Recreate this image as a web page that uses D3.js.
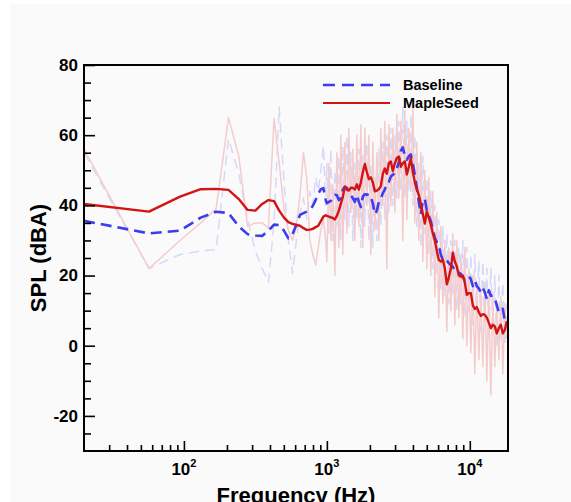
<!DOCTYPE html>
<html><head><meta charset="utf-8">
<script src="https://cdn.jsdelivr.net/npm/d3@7"></script>
<style>html,body{margin:0;padding:0;background:#fff;} svg{display:block;}</style>
</head><body>
<script>
// ---- DATA ----
// FFT bins below 1 kHz (Hz)
const freqLow = [20,57,94,131,168,205,242,279,316,353,390,427,464,501,538,575,612,649,686,723,760,797,834,871,908,945,982];
// sample frequencies above 1 kHz (Hz)
const freqHigh = [1000,1033,1067,1101,1138,1175,1213,1253,1294,1336,
 1380,1425,1472,1520,1570,1621,1674,1729,1786,1844,
 1904,1967,2031,2098,2166,2237,2310,2386,2464,2545,
 2628,2714,2803,2895,2990,3087,3189,3293,3401,3512,
 3627,3746,3868,3995,4126,4261,4400,4544,4693,4847,
 5005,5169,5338,5513,5694,5880,6073,6271,6477,6689,
 6908,7134,7367,7608,7858,8115,8380,8655,8938,9231,
 9533,9845,10167,10500,10843,11198,11565,11943,12334,12738,
 13155,13586,14030,14490,14964,15454,15960,16482,17022,17579,
 18154];

// Baseline raw spectrum (dBA)
const baselineRawLow = [55,22,26,27,27.4,59,49,36,27,22,18,35,68,47,30,20.6,30,37.8,42,36,44,40,48,44,50,57,40];
const baselineRawHigh = [52,32,56,30,50,34,54,30,57,36,
 60,34,55,30,52,36,56,28,54,34,
 58,30,52,28,48,30,56,34,58,36,
 60,38,62,40,60,42,64,44,68,42,
 64,44,66,40,60,34,52,28,54,32,
 48,26,44,22,40,20,36,16,34,14,
 32,12,30,14,30,10,28,12,30,8,
 28,10,26,6,26,8,24,4,24,6,
 22,2,22,6,20,0,20,2,18,0,
 12];
// MapleSeed raw spectrum (dBA)
const mapleRawLow = [56,22,30,35,39,65,54,34,35,35,33.5,64.8,52,39,33,30,34,43,55,48,30,26,23,28,33,36,30];
const mapleRawHigh = [24,52,30,46,20,55,28,60,26,58,
 32,62,38,56,30,60,34,63,28,62,
 40,60,26,58,33,55,30,62,40,64,
 22,63,40,62,38,66,42,64,30,67,
 36,62,44,68,35,58,30,55,24,50,
 22,48,20,44,14,38,8,34,12,30,
 4,28,10,32,6,30,8,26,2,28,
 0,22,-2,20,-8,18,-4,16,-6,18,
 -10,15,-14,14,-6,12,-4,14,-8,12,
 2];
// Baseline smoothed spectrum (dBA)
const baselineLow = [35.6,32.0,32.8,36.5,38.2,37.8,34.0,31.8,31.4,31.3,32.8,34.5,34.4,32.8,30.6,31.8,34.5,37.3,37.8,38.2,38.8,39.8,41.5,43.3,44.6,44.9,41.5];
const baselineHigh = [40.6,41.0,41.3,42.2,43.0,42.9,41.5,42.0,44.5,45.3,
 45.0,44.0,43.0,42.0,41.0,43.0,41.0,39.5,42.5,43.2,
 43.0,43.2,42.5,40.5,37.5,38.5,41.0,42.0,43.5,44.5,
 46.5,46.7,48.2,48.7,49.2,50.3,52.5,55.5,56.5,54.0,
 53.0,54.0,54.5,52.0,48.5,45.0,41.0,37.5,41.5,41.8,
 38.5,37.0,35.5,33.0,30.8,29.5,28.4,26.0,24.5,24.0,
 24.3,23.5,23.0,22.5,21.5,20.7,20.8,20.5,19.5,18.7,
 19.2,19.8,19.0,17.0,18.5,17.0,16.3,15.3,16.5,15.2,
 13.3,15.8,14.2,14.3,13.5,11.5,9.5,10.5,10.5,7.0,
 6.0];
// MapleSeed smoothed spectrum (dBA)
const mapleLow = [40.4,38.2,42.5,44.6,44.7,44.4,41.8,38.7,38.5,40.4,41.5,41.2,38.5,36.5,35.2,34.7,34.4,34.2,33.5,33.0,33.1,33.3,33.8,34.2,35.5,36.8,37.2];
const mapleHigh = [37.0,36.8,36.6,36.4,36.0,37.0,38.5,40.5,42.5,45.3,
 44.5,44.2,45.0,45.0,44.5,46.0,44.5,46.5,49.5,51.8,
 49.5,47.5,48.0,46.5,44.0,44.2,44.6,45.5,49.0,50.5,
 49.0,52.0,52.5,49.8,52.0,53.5,53.9,51.0,52.0,52.5,
 48.8,51.0,53.5,49.5,46.5,44.5,43.0,40.5,37.5,34.8,
 38.2,36.5,34.5,32.0,30.0,27.0,24.4,24.0,24.5,22.0,
 17.5,19.5,22.0,26.5,24.0,22.5,20.0,19.7,20.0,18.0,
 14.5,15.0,15.0,11.5,10.5,11.0,9.5,8.5,9.0,8.8,
 8.0,6.5,5.0,6.0,5.5,3.5,5.0,6.0,3.5,4.5,
 7.0];

const seriesNames = ["Baseline", "MapleSeed"];
const yTicks = [-20, 0, 20, 40, 60, 80];
const yMinorTicks = [-25,-15,-10,-5,5,10,15,25,30,35,45,50,55,65,70,75];
const xMajorTicks = [100, 1000, 10000];
const xMinorTicks = [30,40,50,60,70,80,90,200,300,400,500,600,700,800,900,2000,3000,4000,5000,6000,7000,8000,9000];
const xTickExponents = ["2", "3", "4"];

// ---- CHART ----
const frequencies = freqLow.concat(freqHigh);
const baselineRaw = baselineRawLow.concat(baselineRawHigh);
const mapleRaw = mapleRawLow.concat(mapleRawHigh);
const baseline = baselineLow.concat(baselineHigh);
const maple = mapleLow.concat(mapleHigh);

const W = 571, H = 502;
const FONT = "'Liberation Sans', Arial, Helvetica, sans-serif";
const svg = d3.select("body").append("svg").attr("width", W).attr("height", H);
svg.append("rect").attr("x", 10).attr("y", 4).attr("width", W - 10).attr("height", H - 4).attr("fill", "#fafafa");

const m = {l: 84, r: 508, t: 65, b: 451};
const x = d3.scaleLog().domain([20, 18500]).range([m.l, m.r]);
const y = d3.scaleLinear().domain([-30, 80]).range([m.b, m.t]);

svg.append("defs").append("clipPath").attr("id", "clip")
  .append("rect").attr("x", m.l).attr("y", m.t).attr("width", m.r - m.l).attr("height", m.b - m.t);

const line = d3.line().x((d, i) => x(frequencies[i])).y(d => y(d));
const g = svg.append("g").attr("clip-path", "url(#clip)");
const series = [
  {data: baselineRaw, color: "#d6d8fb", w: 1.5, dash: "10,6"},
  {data: mapleRaw, color: "#f5cccc", w: 1.5, dash: null},
  {data: baseline, color: "#3c3cf0", w: 2.6, dash: "11,6"},
  {data: maple, color: "#d21414", w: 2.4, dash: null}
];
series.forEach(s => {
  g.append("path").datum(s.data).attr("d", line)
    .attr("fill", "none").attr("stroke", s.color).attr("stroke-width", s.w)
    .attr("stroke-linejoin", "round")
    .attr("stroke-dasharray", s.dash);
});

// axes
function styleAxis(sel) {
  sel.select(".domain").remove();
  sel.selectAll("line").attr("stroke", "#000").attr("stroke-width", 1.6);
}
svg.append("g").attr("transform", `translate(0,${m.b})`)
  .call(d3.axisBottom(x).tickValues(xMinorTicks).tickSize(-6).tickFormat(""))
  .call(styleAxis);
svg.append("g").attr("transform", `translate(0,${m.b})`)
  .call(d3.axisBottom(x).tickValues(xMajorTicks).tickSize(-10).tickFormat(""))
  .call(styleAxis);
svg.append("g").attr("transform", `translate(${m.l},0)`)
  .call(d3.axisLeft(y).tickValues(yMinorTicks).tickSize(-7).tickFormat(""))
  .call(styleAxis);
const ya = svg.append("g").attr("transform", `translate(${m.l},0)`)
  .call(d3.axisLeft(y).tickValues(yTicks).tickSize(-11).tickPadding(6).tickFormat(d => String(d)))
  .call(styleAxis);
ya.selectAll("text").attr("font-family", FONT).attr("font-weight", "bold").attr("font-size", 17).attr("fill", "#000");

// x labels with superscripts
xMajorTicks.forEach((v, i) => {
  const t = svg.append("text").attr("x", x(v)).attr("y", 475).attr("text-anchor", "middle")
    .attr("font-family", FONT).attr("font-weight", "bold").attr("font-size", 17).attr("fill", "#000");
  t.append("tspan").text("10");
  t.append("tspan").attr("dy", -8).attr("font-size", 11).text(xTickExponents[i]);
});

// frame
svg.append("rect").attr("x", m.l).attr("y", m.t).attr("width", m.r - m.l).attr("height", m.b - m.t)
  .attr("fill", "none").attr("stroke", "#000").attr("stroke-width", 2);

// titles
svg.append("text").attr("x", (m.l + m.r) / 2).attr("y", 503).attr("text-anchor", "middle")
  .attr("font-family", FONT).attr("font-weight", "bold").attr("font-size", 22).text("Frequency (Hz)");
svg.append("text").attr("transform", `translate(46,${(m.t + m.b) / 2}) rotate(-90)`).attr("text-anchor", "middle")
  .attr("font-family", FONT).attr("font-weight", "bold").attr("font-size", 22).text("SPL (dBA)");

// legend
const legend = [
  {name: seriesNames[0], color: "#3c3cf0", dash: "12,7", w: 2.4, y: 85},
  {name: seriesNames[1], color: "#d21414", dash: null, w: 2.2, y: 103}
];
legend.forEach(l => {
  svg.append("line").attr("x1", 323).attr("x2", 390).attr("y1", l.y).attr("y2", l.y)
    .attr("stroke", l.color).attr("stroke-width", l.w).attr("stroke-dasharray", l.dash);
  svg.append("text").attr("x", 403).attr("y", l.y + 5).attr("font-family", FONT)
    .attr("font-weight", "bold").attr("font-size", 14.5).attr("fill", "#000").text(l.name);
});
</script>
</body></html>
